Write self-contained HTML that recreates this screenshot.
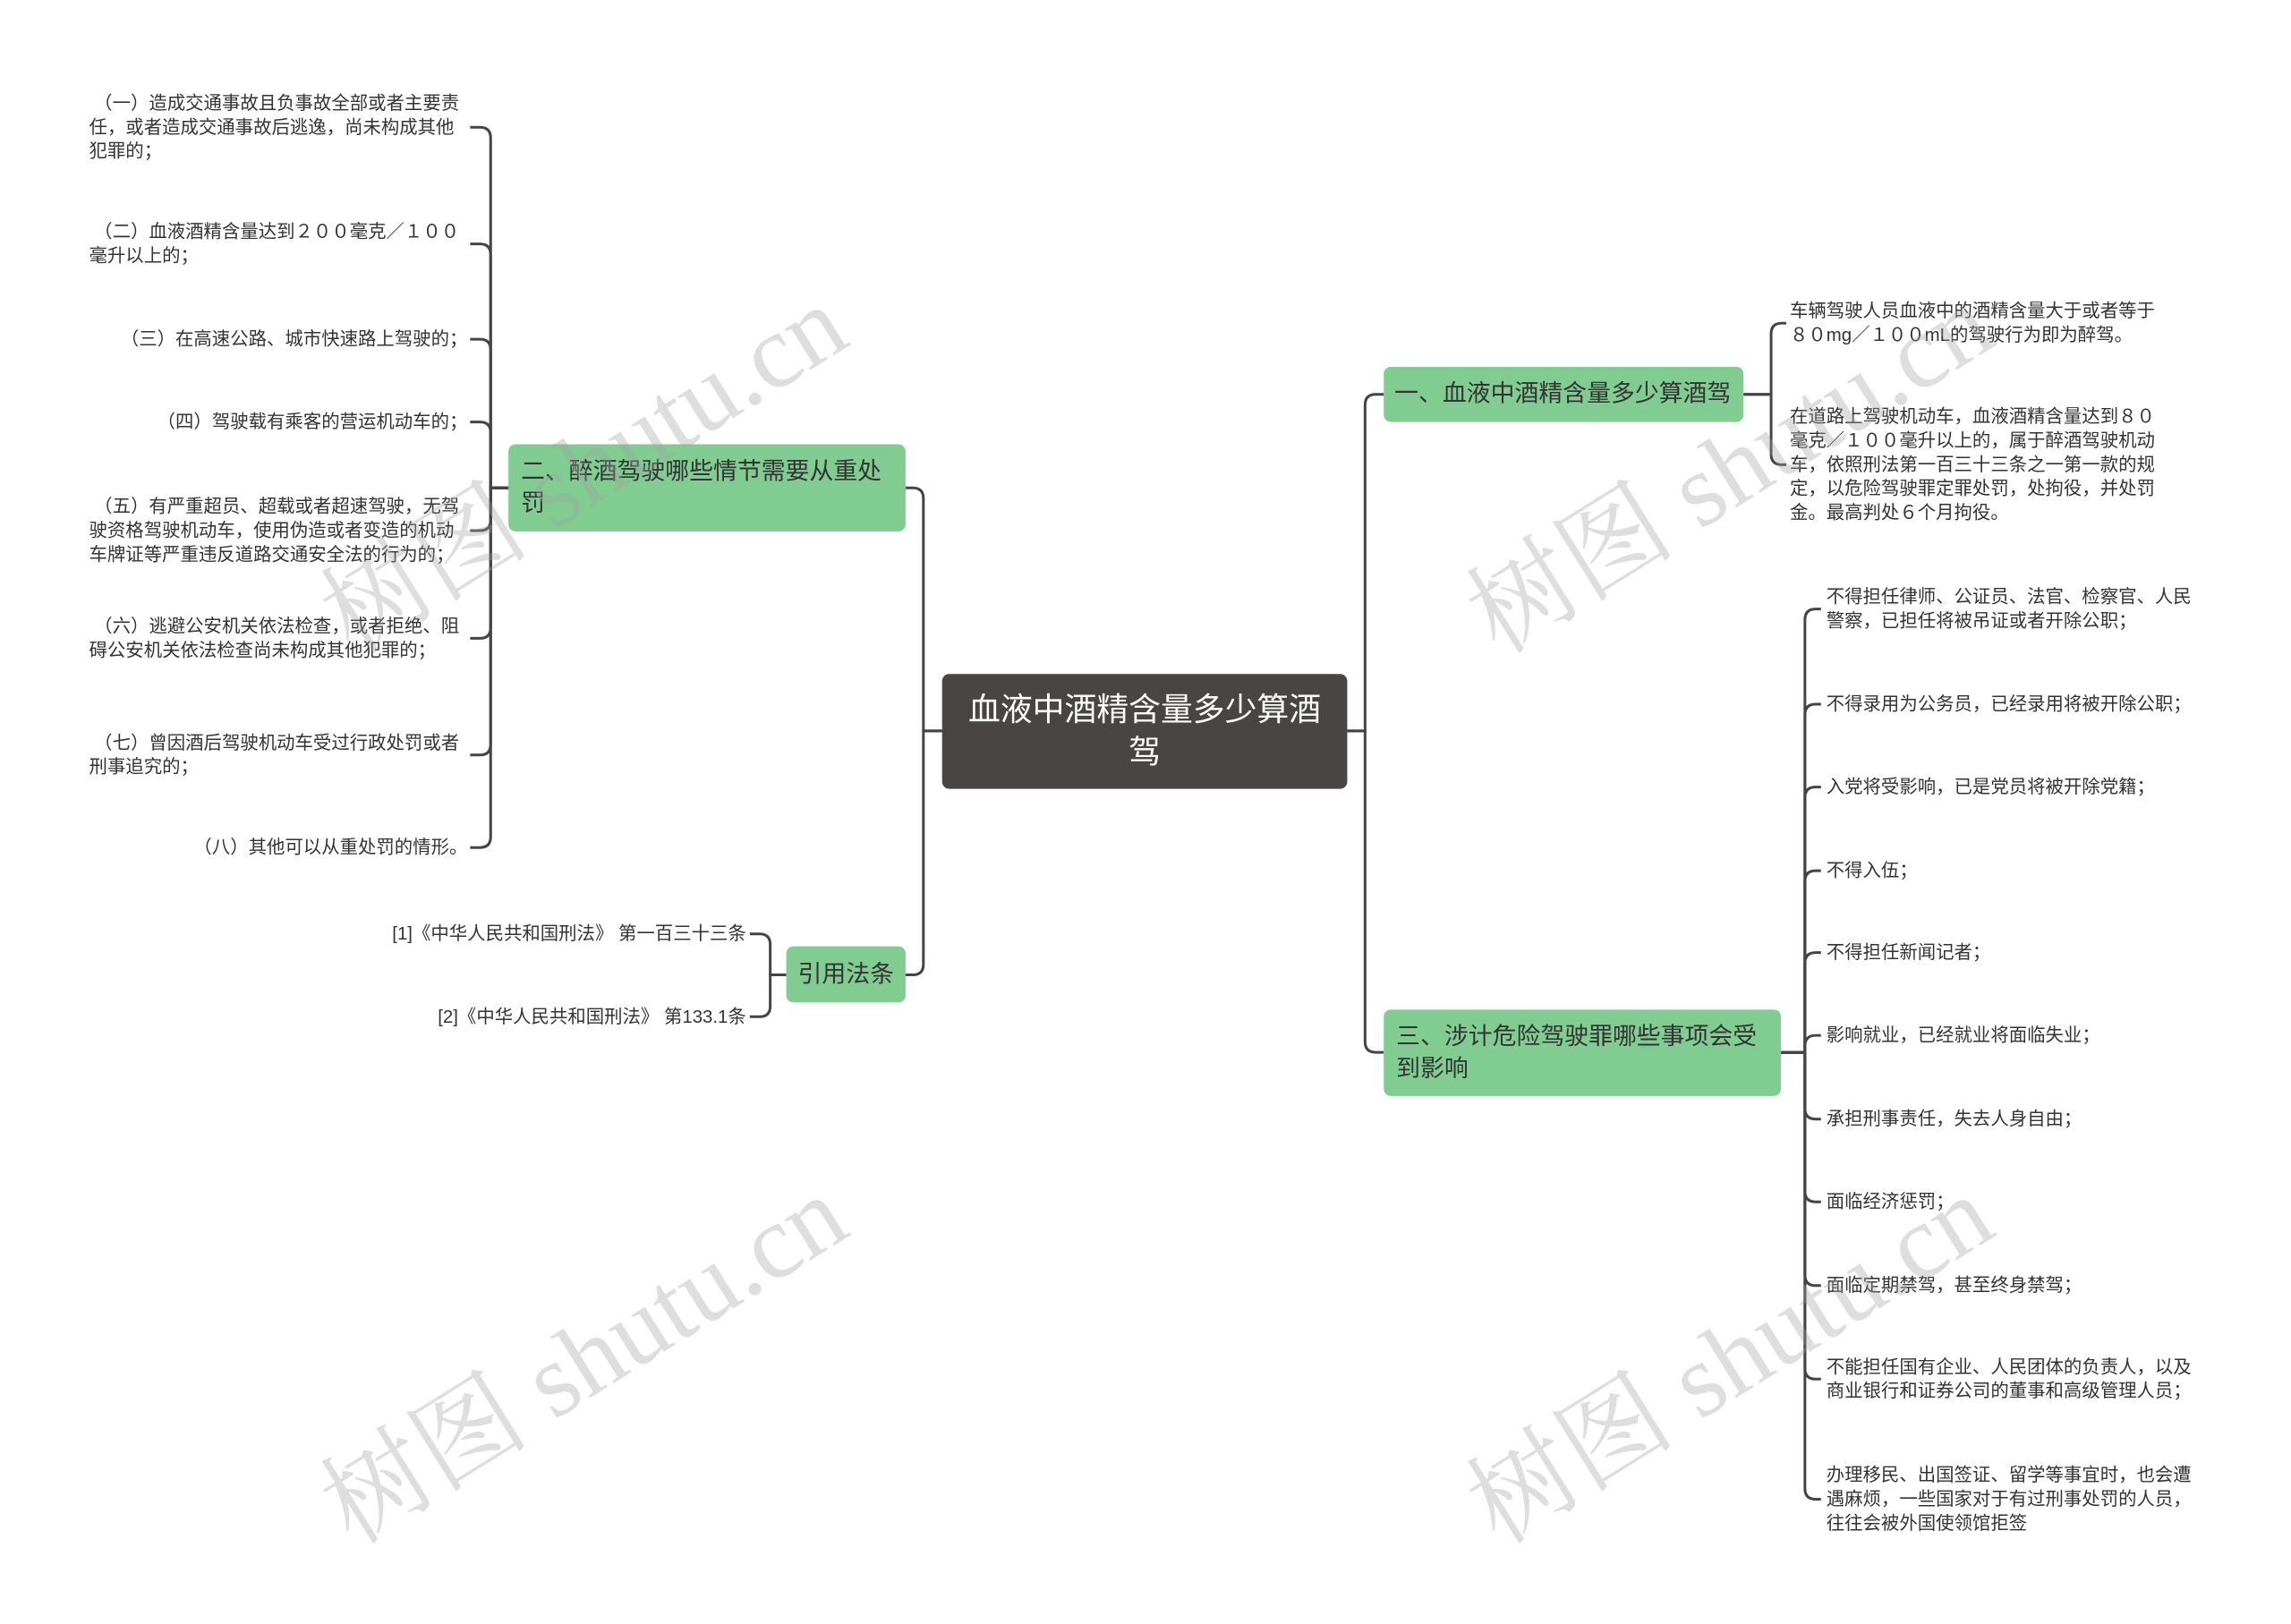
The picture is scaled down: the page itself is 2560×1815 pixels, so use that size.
<!DOCTYPE html>
<html><head><meta charset="utf-8">
<style>
html,body{margin:0;padding:0;background:#fff;}
body{width:2560px;height:1815px;position:relative;overflow:hidden;font-family:"Liberation Sans","Noto Sans CJK SC",sans-serif;color:#333;}
#c{position:absolute;left:0;top:0;width:2560px;height:1815px;transform:scale(0.995);transform-origin:0 0;}
.n{position:absolute;box-sizing:border-box;border-radius:8px;}
.g{background:#80cc91;font-size:27px;line-height:36px;padding:12px 14px;color:#333;}
.root{background:#4a4545;color:#fff;font-size:36px;line-height:48px;text-align:center;padding:16px 22px;}
.t{position:absolute;font-size:20.5px;line-height:27px;color:#333;transform:translateY(-50%);}
.L{right:2035px;max-width:425px;}
.R{left:2051px;width:430px;}
.R1{left:2010px;width:425px;}
.wm{position:absolute;font-family:"Liberation Serif","Noto Serif CJK SC",serif;font-size:118px;color:rgba(160,160,160,0.35);transform:translate(-50%,-50%) rotate(-32deg);white-space:nowrap;}
svg{position:absolute;left:0;top:0;}
</style></head><body>
<div id="c">
<svg width="2560" height="1815" fill="none" stroke="#444" stroke-width="3">
<path d="M1058 821 H1037 V560 Q1037 548 1025 548 H1017"/>
<path d="M1058 821 H1037 V1083 Q1037 1095 1025 1095 H1017"/>
<path d="M1513 821 H1533 V455 Q1533 443 1545 443 H1554"/>
<path d="M1513 821 H1533 V1170 Q1533 1182 1545 1182 H1554"/>
<path d="M571 548 H551 V155 Q551 143 539 143 H528"/>
<path d="M571 548 H551 V286 Q551 274 539 274 H528"/>
<path d="M571 548 H551 V393 Q551 381 539 381 H528"/>
<path d="M571 548 H551 V486 Q551 474 539 474 H528"/>
<path d="M571 548 H551 V584 Q551 596 539 596 H528"/>
<path d="M571 548 H551 V705 Q551 717 539 717 H528"/>
<path d="M571 548 H551 V836 Q551 848 539 848 H528"/>
<path d="M571 548 H551 V940 Q551 952 539 952 H528"/>
<path d="M883 1095 H865 V1061 Q865 1049 853 1049 H842"/>
<path d="M883 1095 H865 V1130 Q865 1142 853 1142 H842"/>
<path d="M1958 443 H1989 V375 Q1989 363 2001 363 H2006"/>
<path d="M1958 443 H1989 V510 Q1989 522 2001 522 H2006"/>
<path d="M2000 1182 H2027 V696 Q2027 684 2039 684 H2045"/>
<path d="M2000 1182 H2027 V803 Q2027 791 2039 791 H2045"/>
<path d="M2000 1182 H2027 V896 Q2027 884 2039 884 H2045"/>
<path d="M2000 1182 H2027 V990 Q2027 978 2039 978 H2045"/>
<path d="M2000 1182 H2027 V1082 Q2027 1070 2039 1070 H2045"/>
<path d="M2000 1182 H2027 V1175 Q2027 1163 2039 1163 H2045"/>
<path d="M2000 1182 H2027 V1245 Q2027 1257 2039 1257 H2045"/>
<path d="M2000 1182 H2027 V1338 Q2027 1350 2039 1350 H2045"/>
<path d="M2000 1182 H2027 V1432 Q2027 1444 2039 1444 H2045"/>
<path d="M2000 1182 H2027 V1537 Q2027 1549 2039 1549 H2045"/>
<path d="M2000 1182 H2027 V1672 Q2027 1684 2039 1684 H2045"/>
</svg>

<div class="n root" style="left:1058px;top:757px;width:455px;height:129px;">血液中酒精含量多少算酒驾</div>
<div class="n g" style="left:571px;top:499px;width:446px;height:98px;">二、醉酒驾驶哪些情节需要从重处罚</div>
<div class="n g" style="left:883px;top:1063px;width:134px;height:63px;text-align:center;padding:13px 0;">引用法条</div>
<div class="n g" style="left:1554px;top:412px;width:404px;height:62px;padding:12px 12px;white-space:nowrap;">一、血液中酒精含量多少算酒驾</div>
<div class="n g" style="left:1554px;top:1134px;width:446px;height:97px;">三、涉计危险驾驶罪哪些事项会受到影响</div>

<div class="t L" style="top:143px;">&nbsp;（一）造成交通事故且负事故全部或者主要责任，或者造成交通事故后逃逸，尚未构成其他犯罪的；</div>
<div class="t L" style="top:274px;">&nbsp;（二）血液酒精含量达到２００毫克／１００毫升以上的；</div>
<div class="t L" style="top:381px;">（三）在高速公路、城市快速路上驾驶的；</div>
<div class="t L" style="top:474px;">（四）驾驶载有乘客的营运机动车的；</div>
<div class="t L" style="top:596px;">&nbsp;（五）有严重超员、超载或者超速驾驶，无驾驶资格驾驶机动车，使用伪造或者变造的机动车牌证等严重违反道路交通安全法的行为的；</div>
<div class="t L" style="top:717px;">&nbsp;（六）逃避公安机关依法检查，或者拒绝、阻碍公安机关依法检查尚未构成其他犯罪的；</div>
<div class="t L" style="top:848px;">&nbsp;（七）曾因酒后驾驶机动车受过行政处罚或者刑事追究的；</div>
<div class="t L" style="top:952px;">（八）其他可以从重处罚的情形。</div>

<div class="t" style="right:1722px;top:1049px;white-space:nowrap;">[1]《中华人民共和国刑法》 第一百三十三条</div>
<div class="t" style="right:1722px;top:1142px;white-space:nowrap;">[2]《中华人民共和国刑法》 第133.1条</div>

<div class="t R1" style="top:363px;">车辆驾驶人员血液中的酒精含量大于或者等于８０mg／１００mL的驾驶行为即为醉驾。</div>
<div class="t R1" style="top:522px;">在道路上驾驶机动车，血液酒精含量达到８０毫克／１００毫升以上的，属于醉酒驾驶机动车，依照刑法第一百三十三条之一第一款的规定，以危险驾驶罪定罪处罚，处拘役，并处罚金。最高判处６个月拘役。</div>

<div class="t R" style="top:684px;">不得担任律师、公证员、法官、检察官、人民警察，已担任将被吊证或者开除公职；</div>
<div class="t R" style="top:791px;">不得录用为公务员，已经录用将被开除公职；</div>
<div class="t R" style="top:884px;">入党将受影响，已是党员将被开除党籍；</div>
<div class="t R" style="top:978px;">不得入伍；</div>
<div class="t R" style="top:1070px;">不得担任新闻记者；</div>
<div class="t R" style="top:1163px;">影响就业，已经就业将面临失业；</div>
<div class="t R" style="top:1257px;">承担刑事责任，失去人身自由；</div>
<div class="t R" style="top:1350px;">面临经济惩罚；</div>
<div class="t R" style="top:1444px;">面临定期禁驾，甚至终身禁驾；</div>
<div class="t R" style="top:1549px;">不能担任国有企业、人民团体的负责人，以及商业银行和证券公司的董事和高级管理人员；</div>
<div class="t R" style="top:1684px;">办理移民、出国签证、留学等事宜时，也会遭遇麻烦，一些国家对于有过刑事处罚的人员，往往会被外国使领馆拒签</div>

<div class="wm" style="left:650px;top:518px;">树图 shutu.cn</div>
<div class="wm" style="left:650px;top:1518px;">树图 shutu.cn</div>
<div class="wm" style="left:1937px;top:518px;">树图 shutu.cn</div>
<div class="wm" style="left:1937px;top:1518px;">树图 shutu.cn</div>
</div>
</body></html>
